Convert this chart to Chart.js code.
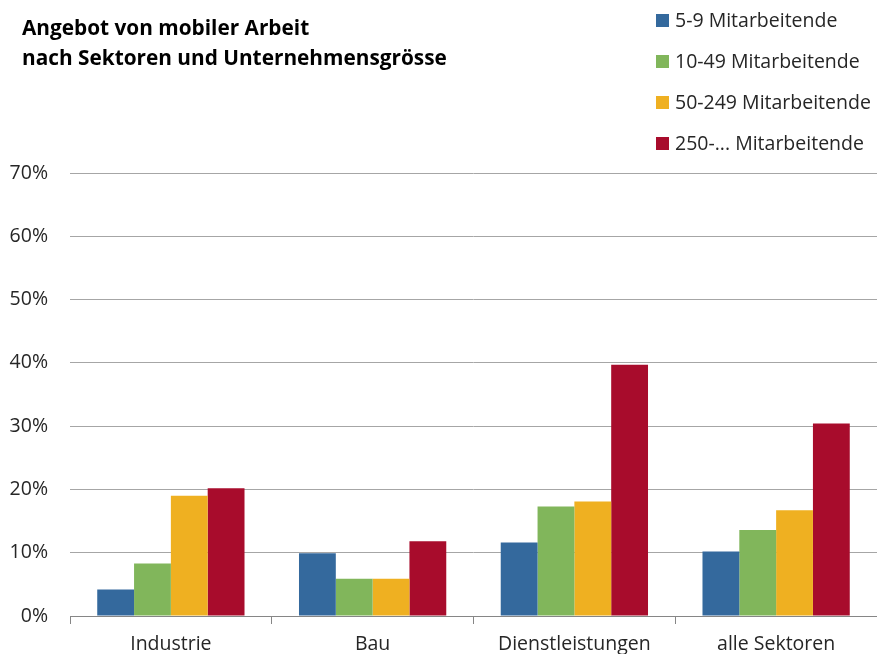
<!DOCTYPE html>
<html lang="de">
<head>
<meta charset="utf-8">
<title>Angebot von mobiler Arbeit</title>
<script src="https://cdn.jsdelivr.net/npm/chart.js@4/dist/chart.umd.min.js"></script>
<style>
  html, body { margin: 0; padding: 0; background: #fff; overflow: hidden; }
  #wrap { position: relative; width: 877px; height: 654px; }
</style>
</head>
<body>
<div id="wrap"><canvas id="chart"></canvas></div>
<script>
  // Werte in Prozent.
  const sectors = ['Industrie', 'Bau', 'Dienstleistungen', 'alle Sektoren'];
  const sizeLabels = ['5-9 Mitarbeitende', '10-49 Mitarbeitende', '50-249 Mitarbeitende', '250-... Mitarbeitende'];
  const size5to9 = [4.2, 9.9, 11.6, 10.2];
  const size10to49 = [8.3, 5.9, 17.3, 13.6];
  const size50to249 = [19.0, 5.9, 18.1, 16.7];
  const size250plus = [20.2, 11.8, 39.7, 30.4];
  const yTicks = [0, 10, 20, 30, 40, 50, 60, 70];
  const titleLines = ['Angebot von mobiler Arbeit', 'nach Sektoren und Unternehmensgrösse'];

  const COLORS = ['#34699d', '#81b65b', '#efb021', '#a80c2c'];
  const INK = '#262626';
  const FONT = '"Open Sans", sans-serif';
  const TEXT_SIZE = 19.5;

  // Titel oben links, Legende als Spalte oben rechts.
  const headerPlugin = {
    id: 'header',
    afterDraw(chart) {
      const ctx = chart.ctx;
      ctx.save();
      ctx.fillStyle = '#000';
      ctx.font = 'bold 20.8px ' + FONT;
      ctx.textBaseline = 'alphabetic';
      ctx.textAlign = 'left';
      titleLines.forEach((line, i) => ctx.fillText(line, 22, 35 + i * 30));

      ctx.font = TEXT_SIZE + 'px ' + FONT;
      chart.data.datasets.forEach((ds, i) => {
        const top = 14 + i * 41;
        ctx.fillStyle = ds.backgroundColor;
        ctx.fillRect(656, top, 13, 13);
        ctx.fillStyle = INK;
        ctx.fillText(ds.label, 675, top + 13);
      });
      ctx.restore();
    },
  };

  const series = [size5to9, size10to49, size50to249, size250plus];

  new Chart(document.getElementById('chart'), {
    type: 'bar',
    data: {
      labels: sectors,
      datasets: series.map((values, i) => ({
        label: sizeLabels[i],
        data: values,
        backgroundColor: COLORS[i],
        borderWidth: 0,
        categoryPercentage: 0.73,
        barPercentage: 1,
      })),
    },
    options: {
      responsive: true,
      maintainAspectRatio: false,
      animation: false,
      layout: { padding: { top: 173, left: 0, right: 0, bottom: 0 } },
      plugins: {
        legend: { display: false },
        title: { display: false },
        tooltip: { enabled: false },
      },
      scales: {
        x: {
          grid: {
            offset: true,
            drawOnChartArea: false,
            drawTicks: true,
            tickLength: 8,
            color: '#868686',
          },
          border: { display: true, color: '#868686' },
          ticks: { color: INK, font: { family: FONT, size: TEXT_SIZE }, padding: 9, maxRotation: 0 },
          afterFit: (scale) => { scale.height = 38; },
        },
        y: {
          min: 0,
          max: 70,
          afterBuildTicks: (scale) => { scale.ticks = yTicks.map((v) => ({ value: v })); },
          grid: { color: '#a6a6a6', drawTicks: false },
          border: { display: false },
          ticks: {
            color: INK,
            font: { family: FONT, size: TEXT_SIZE },
            padding: 22,
            callback: (v) => v + '%',
          },
          afterFit: (scale) => { scale.width = 70; },
        },
      },
    },
    plugins: [headerPlugin],
  });
</script>
</body>
</html>
